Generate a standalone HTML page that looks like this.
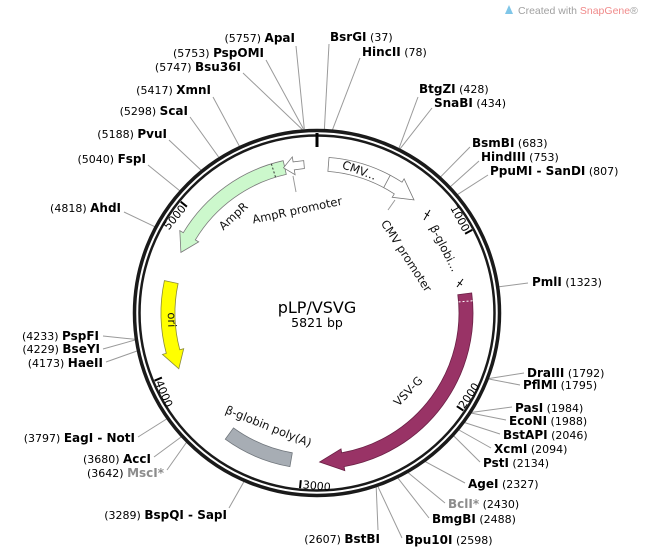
<!DOCTYPE html>
<html><head><meta charset="utf-8"><style>
html,body{margin:0;padding:0;background:#fff;}
svg{display:block;font-family:"DejaVu Sans","Liberation Sans",sans-serif;}
.n{font-weight:bold;font-size:12px;fill:#000;}
.p{font-size:11px;fill:#000;}
.g{fill:#8c8c8c;}
.l{stroke:#9a9a9a;stroke-width:1;fill:none;}
.f{font-size:11.5px;fill:#111;}
.t{font-size:11px;fill:#000;}
</style></head><body>
<svg width="646" height="555" viewBox="0 0 646 555" xmlns="http://www.w3.org/2000/svg">
<rect width="646" height="555" fill="#fff"/>
<!-- watermark -->
<path d="M505,14 L509,5 L513,14 Z" fill="#7fc6e8"/>
<text x="518" y="14" font-size="10.5" fill="#a0a0a0" font-family="Liberation Sans, sans-serif">Created with <tspan fill="#f08a8a">SnapGene</tspan>®</text>

<!-- leader lines -->
<g class="l">
<line x1="296" y1="46" x2="304.3" y2="129"/>
<line x1="266" y1="60" x2="303.5" y2="129"/>
<line x1="243" y1="73" x2="302.3" y2="129.5"/>
<line x1="213" y1="97" x2="239.3" y2="146"/>
<line x1="190" y1="117" x2="218.6" y2="157"/>
<line x1="169" y1="140" x2="200.9" y2="170"/>
<line x1="148" y1="165" x2="179.6" y2="190.6"/>
<line x1="124" y1="212" x2="154.5" y2="226.6"/>
<line x1="103" y1="336" x2="134.9" y2="339.3"/>
<line x1="103" y1="349" x2="135" y2="340"/>
<line x1="106" y1="362" x2="137" y2="351"/>
<line x1="138" y1="437" x2="166.6" y2="419"/>
<line x1="154" y1="457" x2="181.1" y2="437"/>
<line x1="167" y1="470" x2="186.4" y2="442.5"/>
<line x1="229" y1="508" x2="243.9" y2="481.8"/>
<line x1="378" y1="530" x2="376.2" y2="487"/>
<line x1="329" y1="44" x2="324.4" y2="129"/>
<line x1="360" y1="58" x2="332.5" y2="129.7"/>
<line x1="418" y1="97" x2="399" y2="148.3"/>
<line x1="432" y1="108" x2="400.1" y2="148.8"/>
<line x1="470" y1="147" x2="440.7" y2="176.8"/>
<line x1="479" y1="161" x2="450.6" y2="186.5"/>
<line x1="488" y1="175" x2="457.7" y2="194.4"/>
<line x1="528" y1="283" x2="499.1" y2="286.8"/>
<line x1="524" y1="373" x2="489" y2="378.5"/>
<line x1="520" y1="385" x2="488.8" y2="379"/>
<line x1="512" y1="407" x2="471.9" y2="412.4"/>
<line x1="506" y1="420" x2="471.4" y2="413.1"/>
<line x1="500" y1="434" x2="464.8" y2="422.6"/>
<line x1="491" y1="448" x2="459" y2="430"/>
<line x1="480" y1="462" x2="453.8" y2="436"/>
<line x1="465" y1="483" x2="425.4" y2="461.7"/>
<line x1="445" y1="503" x2="408.2" y2="472.8"/>
<line x1="429" y1="518" x2="398" y2="478.2"/>
<line x1="402" y1="538" x2="377.9" y2="486.6"/>
</g>

<!-- ring -->
<circle cx="317" cy="313" r="182.5" fill="none" stroke="#1a1a1a" stroke-width="3.5"/>
<circle cx="317" cy="313" r="177.5" fill="none" stroke="#1a1a1a" stroke-width="2.5"/>
<line x1="317" y1="133" x2="317" y2="147" stroke="#000" stroke-width="3"/>

<!-- ticks -->
<g stroke="#000" stroke-width="2">
<line x1="472.2" y1="229.9" x2="465.1" y2="233.7"/>
<line x1="463.4" y1="410.6" x2="456.8" y2="406.2"/>
<line x1="300" y1="488.2" x2="300.8" y2="480.2"/>
<line x1="154.5" y1="380.7" x2="161.9" y2="377.6"/>
<line x1="180.7" y1="201.7" x2="186.9" y2="206.7"/>
</g>
<text class="t" text-anchor="end" transform="translate(463.3,232.5) rotate(61.8)">1000</text>
<text class="t" text-anchor="start" transform="translate(464.3,409.4) rotate(-56.3)">2000</text>
<text class="t" text-anchor="start" transform="translate(302.5,488.3) rotate(5.5)">3000</text>
<text class="t" text-anchor="start" transform="translate(155.2,382.3) rotate(67.4)">4000</text>
<text class="t" text-anchor="end" transform="translate(186.5,208.8) rotate(-50.8)">5000</text>

<!-- features -->
<path d="M283.2,160.7 A156,156 0 0 0 183.3,232.7 L179.8,230.6 L180.9,252.4 L198.7,241.9 L195.3,239.9 A142,142 0 0 1 286.3,174.4 Z" fill="#ccf8cc" stroke="#7a7a7a" stroke-width="0.8"/>
<line x1="271.4" y1="163.8" x2="275.5" y2="177.2" stroke="#333" stroke-width="1" stroke-dasharray="2,2"/>
<path d="M303.7,160.6 L293.1,161.9 L292.3,156.9 L283.5,167.8 L295.1,174.7 L294.3,169.8 L304.4,168.5 Z" fill="#fff" stroke="#777" stroke-width="0.8"/>
<line x1="293" y1="176" x2="296" y2="192" class="l"/>

<path d="M164.4,280.6 A156,156 0 0 0 166.3,353.4 L162.5,354.4 L178.8,368.8 L183.7,348.7 L179.8,349.8 A142,142 0 0 1 178.1,283.5 Z" fill="#ffff00" stroke="#8a8a3a" stroke-width="0.8"/>

<path d="M471.7,292.9 A156,156 0 0 1 344.1,466.6 L344.8,470.6 L319.6,462 L341,448.9 L341.7,452.8 A142,142 0 0 0 457.8,294.7 Z" fill="#993366" stroke="#6a2045" stroke-width="0.8"/>
<line x1="472.5" y1="300.8" x2="458.6" y2="301.9" stroke="#fff" stroke-width="1" stroke-dasharray="2,2"/>

<path d="M225.3,439.2 A156,156 0 0 0 289.9,466.6 L292.3,452.8 A142,142 0 0 1 233.5,427.9 Z" fill="#a7adb4" stroke="#6f757b" stroke-width="0.8"/>

<path d="M329,157.5 A156,156 0 0 1 402,182.2 L404.1,178.8 L414,199.9 L392.2,197.3 L394.3,193.9 A142,142 0 0 0 327.9,171.4 Z" fill="#fff" stroke="#777" stroke-width="0.8"/>
<line x1="390.2" y1="175.3" x2="383.7" y2="187.6" stroke="#777" stroke-width="0.8"/>
<line x1="395" y1="200" x2="388" y2="210" class="l"/>

<!-- beta-globin intron markers -->
<g stroke="#000" stroke-width="1">
<line x1="424" y1="220" x2="430" y2="210"/><line x1="425" y1="213" x2="429" y2="216"/>
<line x1="457" y1="287" x2="463" y2="279"/><line x1="458" y1="282" x2="462" y2="285"/>
</g>

<!-- feature labels -->
<text class="f" text-anchor="middle" transform="translate(358,174) rotate(20)">CMV...</text>
<text class="f" text-anchor="middle" transform="translate(298,214) rotate(-12)">AmpR promoter</text>
<text class="f" text-anchor="middle" transform="translate(236,219) rotate(-43)">AmpR</text>
<text class="f" text-anchor="middle" transform="translate(403,258) rotate(57)">CMV promoter</text>
<text class="f" text-anchor="middle" transform="translate(441,250) rotate(63)">β-globi...</text>
<text class="f" text-anchor="middle" transform="translate(168,320) rotate(88)">ori</text>
<text class="f" text-anchor="middle" transform="translate(411,394) rotate(-46)">VSV-G</text>
<text class="f" text-anchor="middle" transform="translate(267,430) rotate(22)">β-globin poly(A)</text>

<text x="317" y="313" text-anchor="middle" font-size="16" fill="#000">pLP/VSVG</text>
<text x="317" y="327" text-anchor="middle" font-size="12.5" fill="#000">5821 bp</text>

<!-- left enzyme labels -->
<g text-anchor="end">
<text x="295" y="42"><tspan class="p">(5757) </tspan><tspan class="n">ApaI</tspan></text>
<text x="264" y="57"><tspan class="p">(5753) </tspan><tspan class="n">PspOMI</tspan></text>
<text x="241" y="71"><tspan class="p">(5747) </tspan><tspan class="n">Bsu36I</tspan></text>
<text x="211" y="94"><tspan class="p">(5417) </tspan><tspan class="n">XmnI</tspan></text>
<text x="188" y="115"><tspan class="p">(5298) </tspan><tspan class="n">ScaI</tspan></text>
<text x="167" y="138"><tspan class="p">(5188) </tspan><tspan class="n">PvuI</tspan></text>
<text x="146" y="163"><tspan class="p">(5040) </tspan><tspan class="n">FspI</tspan></text>
<text x="121" y="212"><tspan class="p">(4818) </tspan><tspan class="n">AhdI</tspan></text>
<text x="99" y="340"><tspan class="p">(4233) </tspan><tspan class="n">PspFI</tspan></text>
<text x="100" y="353"><tspan class="p">(4229) </tspan><tspan class="n">BseYI</tspan></text>
<text x="103" y="367"><tspan class="p">(4173) </tspan><tspan class="n">HaeII</tspan></text>
<text x="135" y="442"><tspan class="p">(3797) </tspan><tspan class="n">EagI - NotI</tspan></text>
<text x="151" y="463"><tspan class="p">(3680) </tspan><tspan class="n">AccI</tspan></text>
<text x="164" y="477"><tspan class="p">(3642) </tspan><tspan class="n g">MscI*</tspan></text>
<text x="227" y="519"><tspan class="p">(3289) </tspan><tspan class="n">BspQI - SapI</tspan></text>
<text x="380" y="543"><tspan class="p">(2607) </tspan><tspan class="n">BstBI</tspan></text>
</g>

<!-- right enzyme labels -->
<g text-anchor="start">
<text x="330" y="41"><tspan class="n">BsrGI</tspan><tspan class="p"> (37)</tspan></text>
<text x="362" y="56"><tspan class="n">HincII</tspan><tspan class="p"> (78)</tspan></text>
<text x="419" y="93"><tspan class="n">BtgZI</tspan><tspan class="p"> (428)</tspan></text>
<text x="434" y="107"><tspan class="n">SnaBI</tspan><tspan class="p"> (434)</tspan></text>
<text x="472" y="147"><tspan class="n">BsmBI</tspan><tspan class="p"> (683)</tspan></text>
<text x="481" y="161"><tspan class="n">HindIII</tspan><tspan class="p"> (753)</tspan></text>
<text x="490" y="175"><tspan class="n">PpuMI - SanDI</tspan><tspan class="p"> (807)</tspan></text>
<text x="532" y="286"><tspan class="n">PmlI</tspan><tspan class="p"> (1323)</tspan></text>
<text x="527" y="377"><tspan class="n">DraIII</tspan><tspan class="p"> (1792)</tspan></text>
<text x="523" y="389"><tspan class="n">PflMI</tspan><tspan class="p"> (1795)</tspan></text>
<text x="515" y="412"><tspan class="n">PasI</tspan><tspan class="p"> (1984)</tspan></text>
<text x="509" y="425"><tspan class="n">EcoNI</tspan><tspan class="p"> (1988)</tspan></text>
<text x="503" y="439"><tspan class="n">BstAPI</tspan><tspan class="p"> (2046)</tspan></text>
<text x="494" y="453"><tspan class="n">XcmI</tspan><tspan class="p"> (2094)</tspan></text>
<text x="483" y="467"><tspan class="n">PstI</tspan><tspan class="p"> (2134)</tspan></text>
<text x="468" y="488"><tspan class="n">AgeI</tspan><tspan class="p"> (2327)</tspan></text>
<text x="448" y="508"><tspan class="n g">BclI*</tspan><tspan class="p"> (2430)</tspan></text>
<text x="432" y="523"><tspan class="n">BmgBI</tspan><tspan class="p"> (2488)</tspan></text>
<text x="405" y="544"><tspan class="n">Bpu10I</tspan><tspan class="p"> (2598)</tspan></text>
</g>
</svg>
</body></html>
